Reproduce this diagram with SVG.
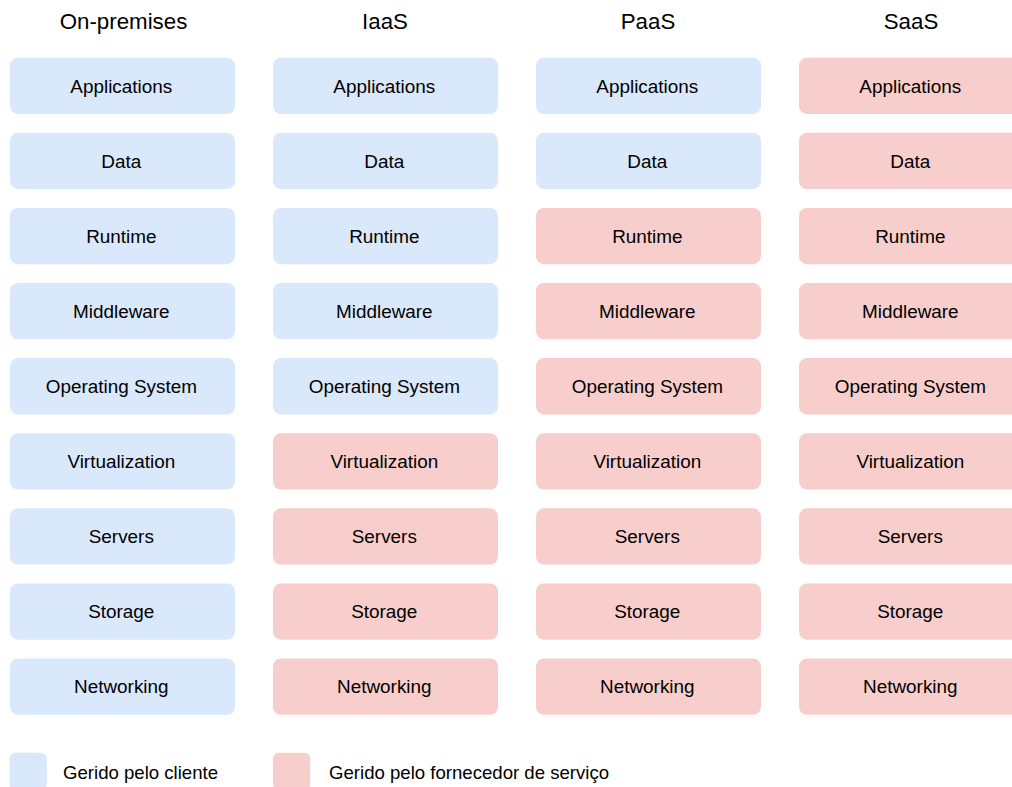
<svg xmlns="http://www.w3.org/2000/svg" width="1012" height="787" viewBox="0 0 1012 787">
<style>
.c{fill:#dae8fc}
.p{fill:#f8cecc}
text{font-family:"Liberation Sans",Arial,sans-serif;fill:#000}
.h{font-size:22.3px;text-anchor:middle}
.t{font-size:18.9px;text-anchor:middle}
.l{font-size:18.6px}
</style>
<defs>
<rect id="b" width="225" height="56.3" rx="8" ry="8"/>
</defs>
<g id="headers">
<text class="h" x="123.5" y="29">On-premises</text>
<text class="h" x="385" y="29">IaaS</text>
<text class="h" x="648" y="29">PaaS</text>
<text class="h" x="911" y="29">SaaS</text>
</g>
<g id="onprem">
<g id="op-app"><use href="#b" class="c" x="10" y="57.7"/><text class="t" x="121.3" y="92.6">Applications</text></g>
<g id="op-data"><use href="#b" class="c" x="10" y="132.8"/><text class="t" x="121.3" y="167.7">Data</text></g>
<g id="op-runtime"><use href="#b" class="c" x="10" y="207.9"/><text class="t" x="121.3" y="242.8">Runtime</text></g>
<g id="op-mw"><use href="#b" class="c" x="10" y="283"/><text class="t" x="121.3" y="317.9">Middleware</text></g>
<g id="op-os"><use href="#b" class="c" x="10" y="358.1"/><text class="t" x="121.3" y="393">Operating System</text></g>
<g id="op-virt"><use href="#b" class="c" x="10" y="433.2"/><text class="t" x="121.3" y="468.1">Virtualization</text></g>
<g id="op-srv"><use href="#b" class="c" x="10" y="508.3"/><text class="t" x="121.3" y="543.2">Servers</text></g>
<g id="op-sto"><use href="#b" class="c" x="10" y="583.4"/><text class="t" x="121.3" y="618.3">Storage</text></g>
<g id="op-net"><use href="#b" class="c" x="10" y="658.5"/><text class="t" x="121.3" y="693.4">Networking</text></g>
</g>
<g id="iaas">
<g id="ia-app"><use href="#b" class="c" x="273" y="57.7"/><text class="t" x="384.3" y="92.6">Applications</text></g>
<g id="ia-data"><use href="#b" class="c" x="273" y="132.8"/><text class="t" x="384.3" y="167.7">Data</text></g>
<g id="ia-runtime"><use href="#b" class="c" x="273" y="207.9"/><text class="t" x="384.3" y="242.8">Runtime</text></g>
<g id="ia-mw"><use href="#b" class="c" x="273" y="283"/><text class="t" x="384.3" y="317.9">Middleware</text></g>
<g id="ia-os"><use href="#b" class="c" x="273" y="358.1"/><text class="t" x="384.3" y="393">Operating System</text></g>
<g id="ia-virt"><use href="#b" class="p" x="273" y="433.2"/><text class="t" x="384.3" y="468.1">Virtualization</text></g>
<g id="ia-srv"><use href="#b" class="p" x="273" y="508.3"/><text class="t" x="384.3" y="543.2">Servers</text></g>
<g id="ia-sto"><use href="#b" class="p" x="273" y="583.4"/><text class="t" x="384.3" y="618.3">Storage</text></g>
<g id="ia-net"><use href="#b" class="p" x="273" y="658.5"/><text class="t" x="384.3" y="693.4">Networking</text></g>
</g>
<g id="paas">
<g id="pa-app"><use href="#b" class="c" x="536" y="57.7"/><text class="t" x="647.3" y="92.6">Applications</text></g>
<g id="pa-data"><use href="#b" class="c" x="536" y="132.8"/><text class="t" x="647.3" y="167.7">Data</text></g>
<g id="pa-runtime"><use href="#b" class="p" x="536" y="207.9"/><text class="t" x="647.3" y="242.8">Runtime</text></g>
<g id="pa-mw"><use href="#b" class="p" x="536" y="283"/><text class="t" x="647.3" y="317.9">Middleware</text></g>
<g id="pa-os"><use href="#b" class="p" x="536" y="358.1"/><text class="t" x="647.3" y="393">Operating System</text></g>
<g id="pa-virt"><use href="#b" class="p" x="536" y="433.2"/><text class="t" x="647.3" y="468.1">Virtualization</text></g>
<g id="pa-srv"><use href="#b" class="p" x="536" y="508.3"/><text class="t" x="647.3" y="543.2">Servers</text></g>
<g id="pa-sto"><use href="#b" class="p" x="536" y="583.4"/><text class="t" x="647.3" y="618.3">Storage</text></g>
<g id="pa-net"><use href="#b" class="p" x="536" y="658.5"/><text class="t" x="647.3" y="693.4">Networking</text></g>
</g>
<g id="saas">
<g id="sa-app"><use href="#b" class="p" x="799" y="57.7"/><text class="t" x="910.3" y="92.6">Applications</text></g>
<g id="sa-data"><use href="#b" class="p" x="799" y="132.8"/><text class="t" x="910.3" y="167.7">Data</text></g>
<g id="sa-runtime"><use href="#b" class="p" x="799" y="207.9"/><text class="t" x="910.3" y="242.8">Runtime</text></g>
<g id="sa-mw"><use href="#b" class="p" x="799" y="283"/><text class="t" x="910.3" y="317.9">Middleware</text></g>
<g id="sa-os"><use href="#b" class="p" x="799" y="358.1"/><text class="t" x="910.3" y="393">Operating System</text></g>
<g id="sa-virt"><use href="#b" class="p" x="799" y="433.2"/><text class="t" x="910.3" y="468.1">Virtualization</text></g>
<g id="sa-srv"><use href="#b" class="p" x="799" y="508.3"/><text class="t" x="910.3" y="543.2">Servers</text></g>
<g id="sa-sto"><use href="#b" class="p" x="799" y="583.4"/><text class="t" x="910.3" y="618.3">Storage</text></g>
<g id="sa-net"><use href="#b" class="p" x="799" y="658.5"/><text class="t" x="910.3" y="693.4">Networking</text></g>
</g>
<g id="connectors"/>
<g id="legend">
<g id="legend-client"><rect class="c" x="9.5" y="752.7" width="37.3" height="37.3" rx="6" ry="6"/><text class="l" x="63" y="779.3">Gerido pelo cliente</text></g>
<g id="legend-provider"><rect class="p" x="273" y="752.7" width="37.3" height="37.3" rx="6" ry="6"/><text class="l" x="329" y="779.3">Gerido pelo fornecedor de serviço</text></g>
</g>
</svg>
